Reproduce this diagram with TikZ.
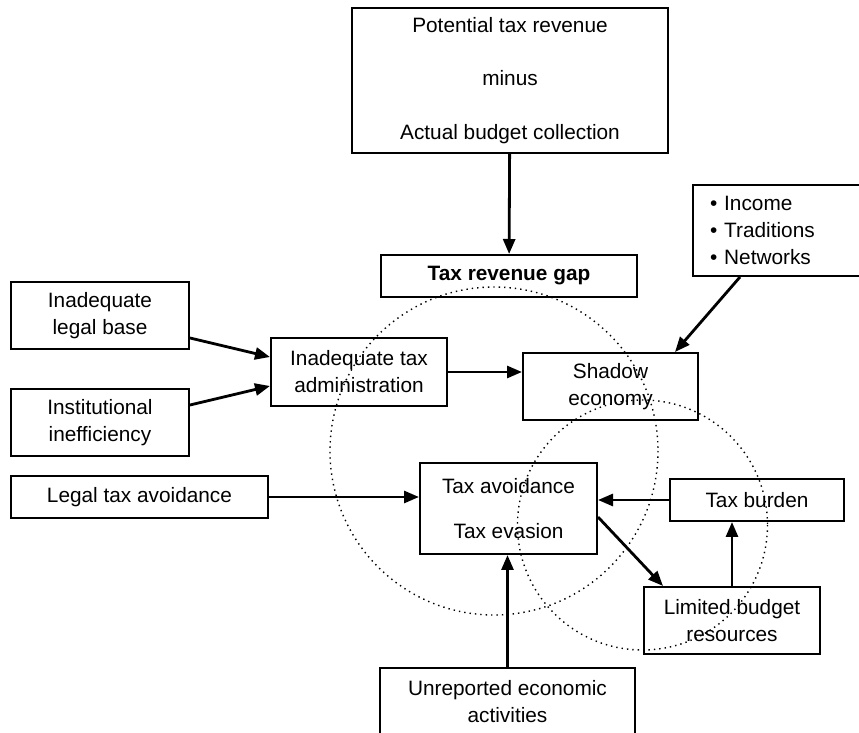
\documentclass[tikz,border=0pt]{standalone}
\usepackage{fontspec}
\setmainfont{Liberation Sans}
\usetikzlibrary{arrows.meta,calc,positioning}
\tikzstyle{box}=[draw,line width=1pt,align=center,inner sep=0pt,font=\fontsize{10.4}{13.5}\selectfont]
\tikzstyle{link}=[-{Triangle[length=7.5pt,width=6pt]},line width=1.4pt]
\tikzstyle{zone}=[dotted,line width=0.7pt]

\begin{document}
\begin{tikzpicture}[x=0.5pt,y=-0.5pt]
  \useasboundingbox (0,0) rectangle (859,733);
  % boxes
  \node[box,minimum width=158pt,minimum height=72.5pt] (potential) at (510,80.5) {Potential tax revenue\\[13.25pt]minus\\[13.25pt]Actual budget collection};
  \node[box,minimum width=128pt,minimum height=21pt,font=\fontsize{10.4}{13.5}\selectfont\bfseries] (gap) at (509,276) {Tax revenue gap};
  \node[box,align=left,text width=67.5pt,inner xsep=8.5pt,minimum height=45.5pt] (factors) at (777.5,230.5) {\textbullet\ Income\\\textbullet\ Traditions\\\textbullet\ Networks};
  \node[box,minimum width=87.5pt,minimum height=33.5pt] (shadow) at (610.5,386.5) {Shadow\\economy};
  \node[box,minimum width=88pt,minimum height=34pt] (admin) at (359,372) {Inadequate tax\\administration};
  \node[box,minimum width=89pt,minimum height=33.5pt] (legal) at (100,315.5) {Inadequate\\legal base};
  \node[box,minimum width=89pt,minimum height=33.5pt] (inst) at (100,422.5) {Institutional\\inefficiency};
  \node[box,minimum width=128.5pt,minimum height=21pt] (avoidlegal) at (139.5,497) {Legal tax avoidance};
  \node[box,minimum width=88.5pt,minimum height=45.5pt] (evasion) at (508.5,508.5) {Tax avoidance\\[9pt]Tax evasion};
  \node[box,minimum width=87pt,minimum height=21pt] (burden) at (757,500) {Tax burden};
  \node[box,minimum width=88pt,minimum height=33.5pt] (limited) at (732,620.5) {Limited budget\\resources};
  \node[box,minimum width=127.5pt,minimum height=33.5pt] (unreported) at (507.5,701.5) {Unreported economic\\activities};
  % arrows
  \draw[link] (potential) -- (gap);
  \draw[link] ($(factors.south)+(-37.5,0)$) -- ($(shadow.north)+(64.5,0)$);
  \draw[link] ($(legal.east)+(0,22.5)$) -- ($(admin.west)+(0,-15)$);
  \draw[link] ($(inst.east)+(0,-17.5)$) -- ($(admin.west)+(0,14)$);
  \draw[link] (admin.east) -- (admin.east -| shadow.west);
  \draw[link] (avoidlegal.east) -- (avoidlegal.east -| evasion.west);
  \draw[link] (burden.west) -- (burden.west -| evasion.east);
  \draw[link] ($(evasion.east)+(0,8.5)$) -- ($(limited.north)+(-69,0)$);
  \draw[link] (limited) -- (limited |- burden.south);
  \draw[link] (unreported) -- (unreported |- evasion.south);
  % overlapping zones
  \draw[zone] (494,451) circle[radius=164];
  \draw[zone] (642.5,525) circle[radius=125];
\end{tikzpicture}
\end{document}
